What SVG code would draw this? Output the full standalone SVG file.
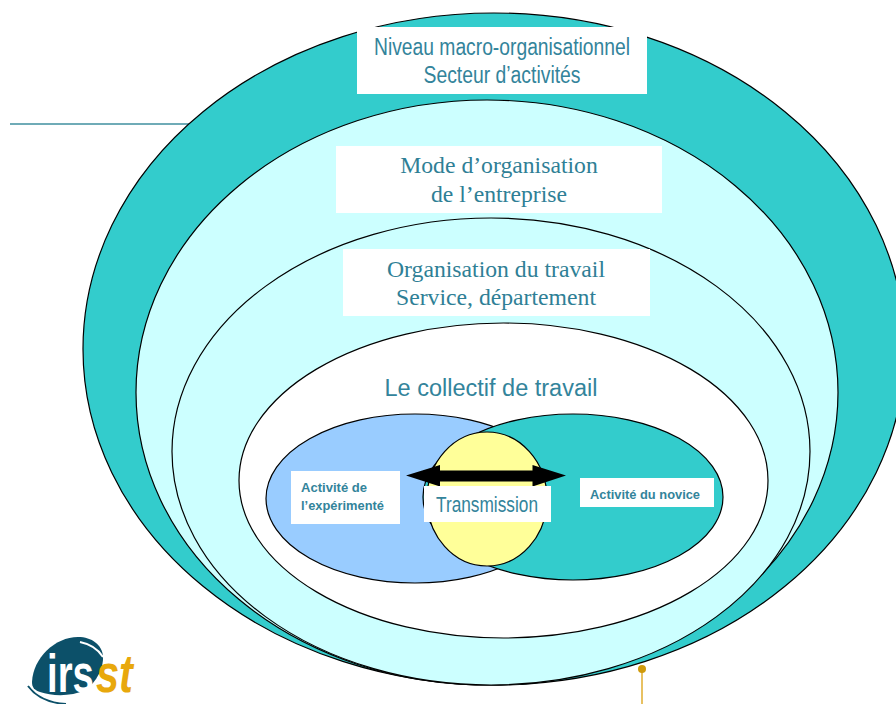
<svg xmlns="http://www.w3.org/2000/svg" width="896" height="704" viewBox="0 0 896 704">
<style>
.e{stroke:#000;stroke-width:1.2}
.box{fill:#fff}
.s{font-family:"Liberation Sans",Arial,sans-serif;fill:#33849b;text-anchor:middle}
.r{font-family:"Liberation Serif","Times New Roman",serif;fill:#2f7f96;text-anchor:middle;font-size:23.700px}
.b{font-family:"Liberation Sans",Arial,sans-serif;fill:#33849b;font-size:13.500px;font-weight:bold}
.l{font-family:"Liberation Sans",Arial,sans-serif;font-size:54px;font-weight:bold}
</style>
<rect width="896" height="704" fill="#fff"/>
<g id="connectors">
<line x1="10" y1="124" x2="190" y2="124" stroke="#3f8f9f" stroke-width="1.3"/>
<line x1="642" y1="669" x2="642" y2="704" stroke="#e0ac2e" stroke-width="1.5"/>
<circle cx="642" cy="669" r="4" fill="#cf9a0c"/>
</g>
<g id="macro">
<ellipse class="e" cx="494" cy="349" rx="411" ry="336" fill="#33cccc"/>
</g>
<g id="entreprise">
<ellipse class="e" cx="487" cy="392.500" rx="351" ry="292.500" fill="#ccffff"/>
</g>
<g id="travail">
<ellipse class="e" cx="491" cy="451.500" rx="319" ry="233.500" fill="#ccffff"/>
</g>
<g id="collectif">
<ellipse class="e" cx="503.500" cy="480.500" rx="264.500" ry="157.500" fill="#fff"/>
<text class="s" x="491" y="396" font-size="23.500">Le collectif de travail</text>
</g>
<g id="experimente">
<ellipse class="e" cx="415" cy="498.500" rx="149" ry="84.500" fill="#99ccff"/>
</g>
<g id="novice">
<ellipse class="e" cx="573" cy="497" rx="150" ry="83" fill="#33cccc"/>
</g>
<g id="transmission">
<ellipse class="e" cx="487" cy="499" rx="60" ry="67" fill="#ffff99"/>
<path d="M406 475.500L440 465V470.500H532.500V465L566 475.500L532.500 486.500V481.500H440V486.500Z" fill="#000"/>
<rect class="box" x="424" y="486" width="127" height="36"/>
<text class="s" x="487" y="512" font-size="21.500" textLength="102" lengthAdjust="spacingAndGlyphs">Transmission</text>
</g>
<g id="label-experimente">
<rect class="box" x="291" y="471" width="109" height="53"/>
<text class="b" x="301" y="492" textLength="66" lengthAdjust="spacingAndGlyphs">Activité de</text>
<text class="b" x="301" y="510" textLength="83" lengthAdjust="spacingAndGlyphs">l’expérimenté</text>
</g>
<g id="label-novice">
<rect class="box" x="580" y="478" width="134" height="29"/>
<text class="b" x="590" y="499" textLength="110" lengthAdjust="spacingAndGlyphs">Activité du novice</text>
</g>
<g id="label-macro">
<rect class="box" x="357" y="27" width="290" height="67"/>
<text class="s" x="502" y="55" font-size="23.500" textLength="256" lengthAdjust="spacingAndGlyphs">Niveau macro-organisationnel</text>
<text class="s" x="502" y="83" font-size="23.500" textLength="157" lengthAdjust="spacingAndGlyphs">Secteur d’activités</text>
</g>
<g id="label-entreprise">
<rect class="box" x="336" y="146" width="326" height="67"/>
<text class="r" x="499" y="173">Mode d’organisation</text>
<text class="r" x="499" y="202">de l’entreprise</text>
</g>
<g id="label-travail">
<rect class="box" x="343" y="249" width="307" height="67"/>
<text class="r" x="496" y="277">Organisation du travail</text>
<text class="r" x="496" y="305">Service, département</text>
</g>
<g id="logo">
<path d="M32 682C33 658 55 637 78 637C92 637 102 645 103 656C104 668 96 682 86 690C70 697 52 696 40 692C34 690 32 687 32 682Z" fill="#0c5069"/>
<path d="M28 686C36 697 50 703 66 704" fill="none" stroke="#0c5069" stroke-width="2"/>
<path d="M80 642C90 644 98 649 103 657" fill="none" stroke="#fff" stroke-width="2"/>
<text class="l" transform="translate(47 692) scale(.71 1)" fill="#fff">irs</text>
<text class="l" transform="translate(96 692) scale(.77 1)" font-style="italic" fill="#e8a80c">st</text>
</g>
</svg>
